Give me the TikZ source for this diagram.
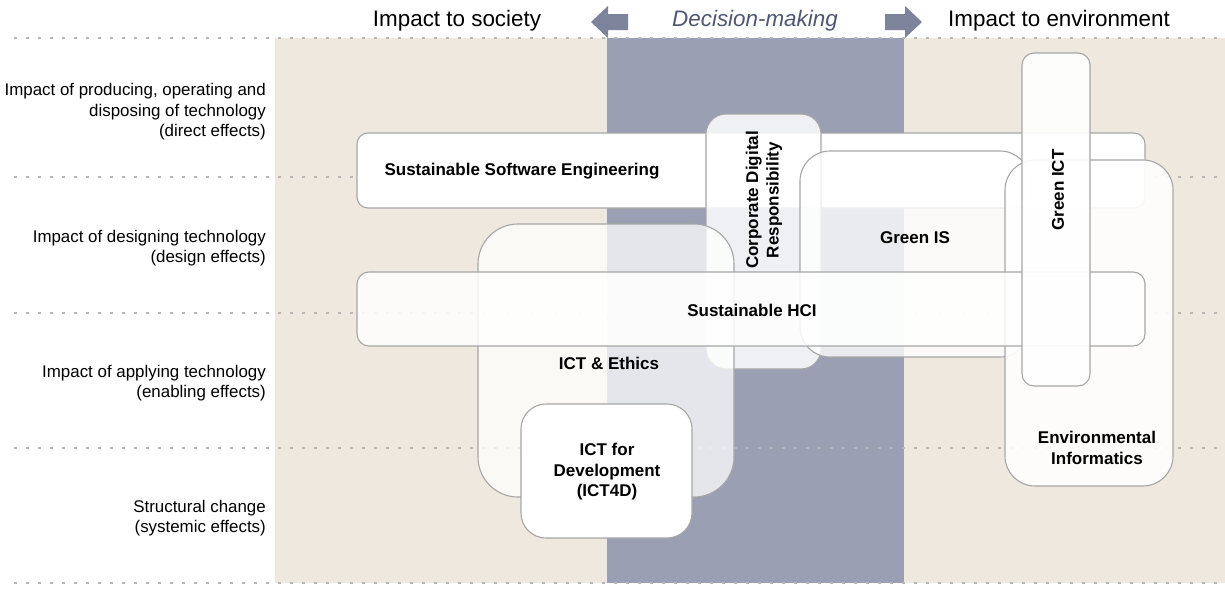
\documentclass[tikz,border=0pt]{standalone}
\usepackage{fontspec}
\setmainfont{Liberation Sans}
\definecolor{beigebg}{HTML}{EFE8DE}
\definecolor{slatebg}{HTML}{9A9FB3}
\definecolor{arrowc}{HTML}{7E839C}
\definecolor{dmtext}{HTML}{4E5670}
\definecolor{boxline}{HTML}{A6A6A6}
\definecolor{dotc}{HTML}{B6B6B6}
\begin{document}
\begin{tikzpicture}[x=1pt,y=-1pt,
  dotline/.style={draw=dotc, line width=2.6pt, dash pattern=on 2.6pt off 9.4pt},
  area/.style={draw=boxline, line width=1.1pt, fill=white},
  lbl/.style={font=\fontsize{16.9}{20.5}\selectfont, align=right, anchor=east, inner sep=0pt},
  boxtxt/.style={font=\fontsize{17}{20.5}\selectfont\bfseries, align=center, inner sep=0pt},
  head/.style={font=\fontsize{22.4}{26}\selectfont, inner sep=0pt},
  harrow/.style={fill=arrowc}]
\useasboundingbox (0,0) rectangle (1225,589);

% backgrounds
\fill[beigebg] (275,38) rectangle (1225,583);
\fill[slatebg] (607,38) rectangle (904,583);

% dotted separators
\foreach \yy in {38,177,313,448,583}
  \draw[dotline] (14,\yy) -- (1222,\yy);

% header
\node[head] (soc) at (457,21) {Impact to society};
\node[head, text=dmtext] (dm) at (755,21) {\itshape Decision-making};
\node[head] (env) at (1059,21) {Impact to environment};
\fill[harrow] (591,22) -- (608,6) -- (608,14) -- (628,14) -- (628,30) -- (608,30) -- (608,38) -- cycle;
\fill[harrow] (922,22) -- (905,6) -- (905,14) -- (885,14) -- (885,30) -- (905,30) -- (905,38) -- cycle;

% row labels
\node[lbl] (r1) at (266,112) {Impact of producing, operating and\\disposing of technology\\(direct effects)};
\node[lbl] (r2) at (266,248) {Impact of designing technology\\(design effects)};
\node[lbl] (r3) at (266,383) {Impact of applying technology\\(enabling effects)};
\node[lbl] (r4) at (266,518) {Structural change\\(systemic effects)};

% areas
\path[area, rounded corners=11pt] (357,133) rectangle (1145,208);
\path[area, fill opacity=0.85, rounded corners=20pt] (706,114) rectangle (821,369);
\path[area, fill opacity=0.8, rounded corners=30pt] (800,151) rectangle (1030,357);
\path[area, fill opacity=0.75, rounded corners=40pt] (478,224) rectangle (734,497);
\path[area, fill opacity=0.9, rounded corners=30pt] (1005,160) rectangle (1173,486);
\path[area, fill opacity=0.85, rounded corners=12pt] (357,272) rectangle (1145,346);
\path[area, fill opacity=0.92, rounded corners=12pt] (1022,53) rectangle (1090,386);
\path[area, rounded corners=25pt] (521,404) rectangle (692,538);

% area labels
\node[boxtxt] (sse) at (522,171) {Sustainable Software Engineering};
\node[boxtxt, rotate=90] (cdr) at (764,200) {Corporate Digital\\Responsibility};
\node[boxtxt] (gis) at (915,238) {Green IS};
\node[boxtxt] (eth) at (609,363) {ICT \& Ethics};
\node[boxtxt] (hci) at (752,310) {Sustainable HCI};
\node[boxtxt] (d4d) at (607,472) {ICT for\\Development\\(ICT4D)};
\node[boxtxt, rotate=90] (gict) at (1058,190) {Green ICT};
\node[boxtxt] (einf) at (1097,448) {Environmental\\Informatics};
\end{tikzpicture}
\end{document}
